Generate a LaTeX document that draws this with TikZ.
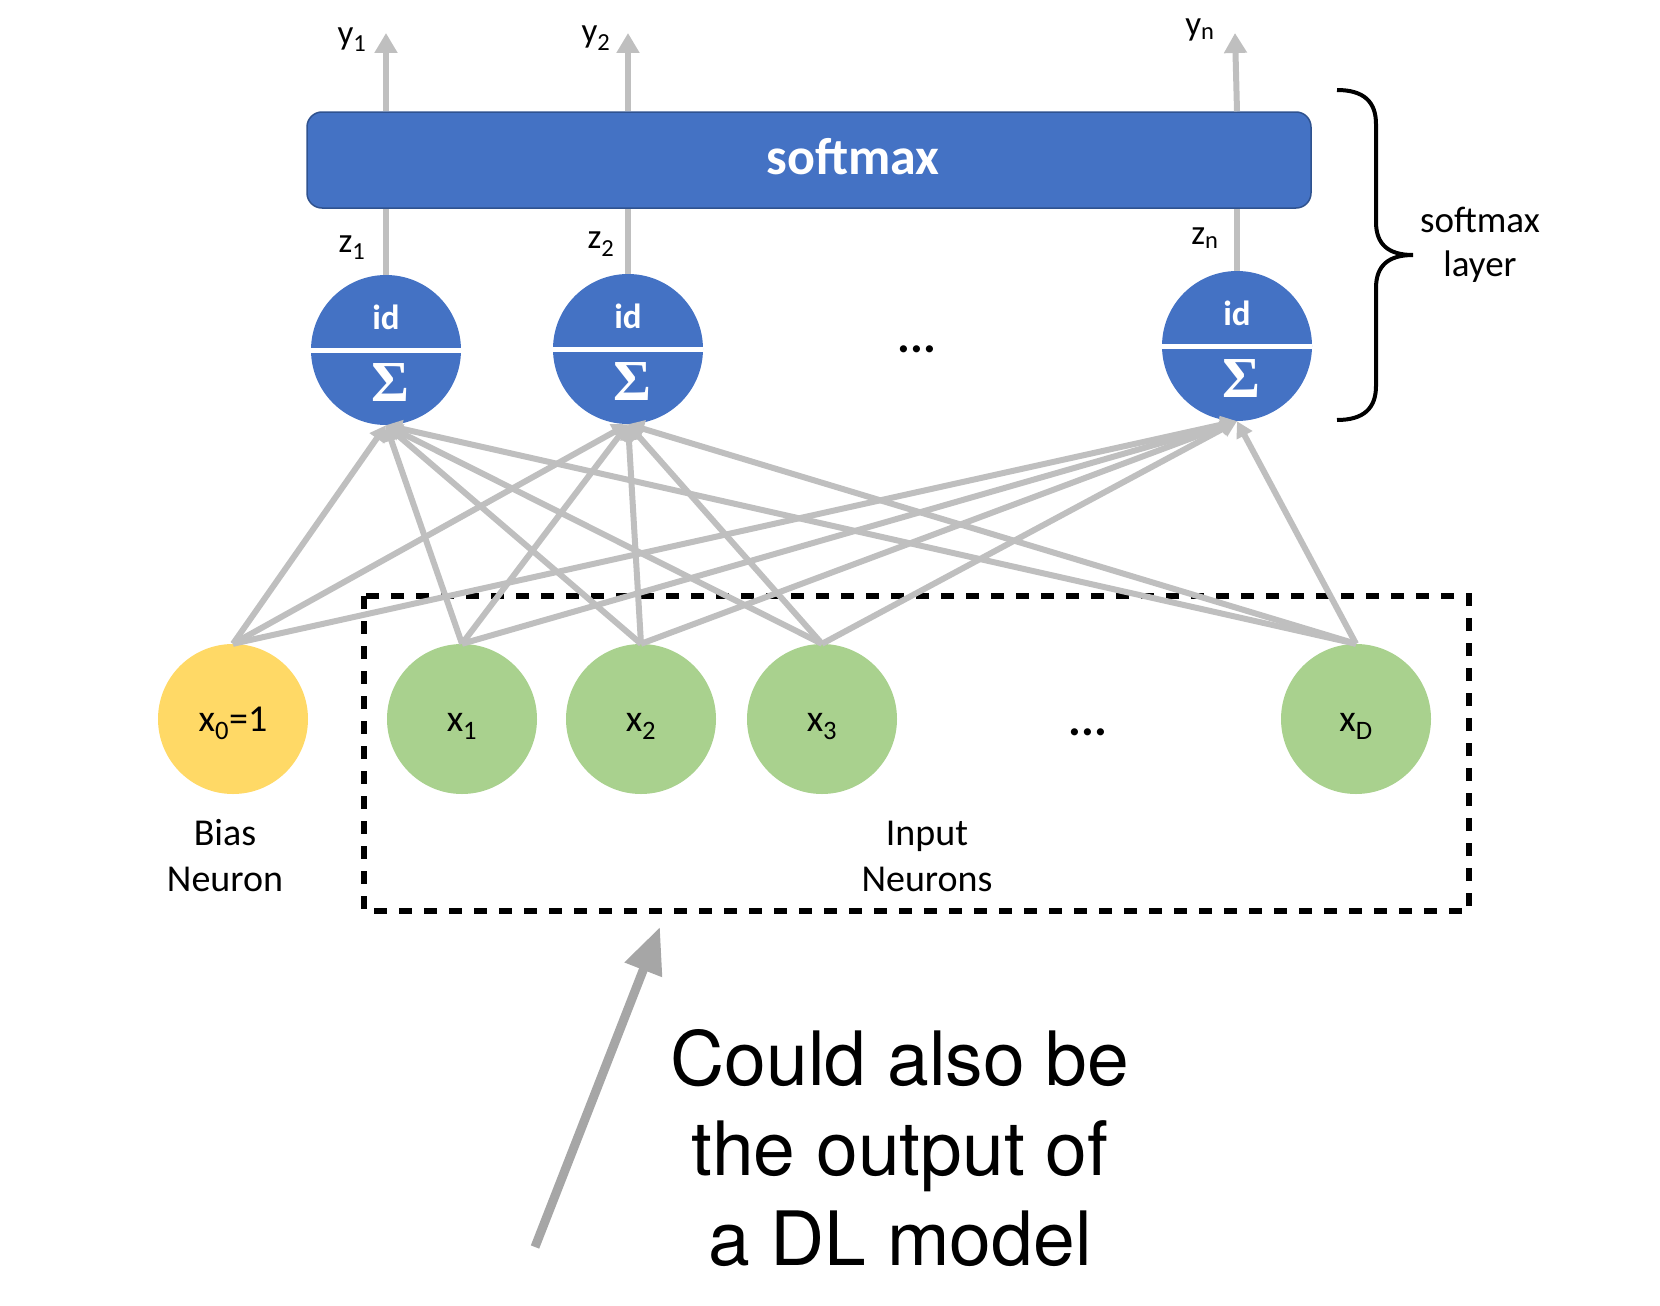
\documentclass[tikz,border=0pt]{standalone}
\usepackage{fontspec}
\setmainfont{Carlito}
\newfontfamily\helv{TeX Gyre Heros}
\newfontfamily\sigfont{Liberation Serif}
\usetikzlibrary{arrows.meta}
\definecolor{nblue}{HTML}{4472C4}
\definecolor{nborder}{HTML}{2F528F}
\definecolor{ngreen}{HTML}{A9D18E}
\definecolor{nyellow}{HTML}{FFD966}
\definecolor{lgray}{HTML}{BFBFBF}
\definecolor{dgray}{HTML}{A6A6A6}
\newcommand{\lowtext}[1]{\raisebox{-12pt}[0pt][0pt]{#1}}
\tikzset{
  neuron/.style={circle, fill=nblue, minimum size=150pt, inner sep=0pt},
  inode/.style={circle, fill=ngreen, minimum size=150pt, inner sep=0pt, font=\fontsize{38}{44}\selectfont},
  bnode/.style={circle, fill=nyellow, minimum size=150pt, inner sep=0pt, font=\fontsize{38}{44}\selectfont},
  conn/.style={lgray, line width=6pt, -{Triangle[length=16pt,width=17pt]}},
  outarrow/.style={lgray, line width=6pt, -{Triangle[length=20pt,width=22pt]}},
  zline/.style={lgray, line width=6pt},
  varlabel/.style={font=\fontsize{35}{40}\selectfont, inner sep=0pt},
  idtext/.style={white, font=\bfseries\fontsize{35}{40}\selectfont, inner sep=0pt},
  sigtext/.style={white, font=\sigfont\bfseries\fontsize{58}{64}\selectfont, inner sep=0pt},
  divider/.style={white, line width=5pt},
  grouplabel/.style={align=center, font=\fontsize{38}{46}\selectfont},
  dots/.style={font=\bfseries\fontsize{48}{50}\selectfont},
  bigtext/.style={font=\helv\fontsize{75}{90}\selectfont, anchor=base, inner sep=0pt}
}
\begin{document}
\begin{tikzpicture}[x=1pt,y=-1pt]
\useasboundingbox (0,0) rectangle (1660,1306);

% softmax box
\node[draw=nborder, line width=1.5pt, fill=nblue, rounded corners=15pt, minimum width=1004pt, minimum height=96pt, inner sep=0pt] (sm) at (809,160) {};
\node[white, font=\bfseries\fontsize{52}{60}\selectfont] (smt) at (853,157) {softmax};

% neurons
\node[neuron] (z1) at (386,350) {};
\node[neuron] (z2) at (628,349) {};
\node[neuron] (zn) at (1237,346) {};
\foreach \n in {z1,z2,zn}{
  \draw[divider] (\n.west) -- (\n.east);
  \node[idtext] (\n id) at ([yshift=33pt]\n.center) {id};
  \node[sigtext] (\n sig) at ([xshift=4pt,yshift=-33pt]\n.center) {Σ};
}
\node[dots] (dtop) at (917,349) {...};

% z lines and y arrows
\coordinate (y1tip) at (386,33);
\coordinate (y2tip) at (628,33);
\coordinate (yntip) at (1235,33);
\foreach \n/\t in {z1/y1tip,z2/y2tip,zn/yntip}{
  \draw[zline] (\n.north) -- (\n.north |- sm.south);
  \draw[outarrow] (\n.north |- sm.north) -- (\t);
}
\node[varlabel] (ly1) at (352,40) {y\textsubscript{1}};
\node[varlabel] (ly2) at (596,38) {y\textsubscript{2}};
\node[varlabel] (lyn) at (1200,30) {y\textsubscript{n}};
\node[varlabel] (lz1) at (352,248) {z\textsubscript{1}};
\node[varlabel] (lz2) at (601,244) {z\textsubscript{2}};
\node[varlabel] (lzn) at (1205,238) {z\textsubscript{n}};

% brace
\draw[black, line width=4pt] (1337,90) .. controls (1364,90) and (1376,102) .. (1376,124)
  -- (1376,222) .. controls (1376,244) and (1388,255) .. (1413,255)
  .. controls (1388,255) and (1376,266) .. (1376,288)
  -- (1376,386) .. controls (1376,408) and (1364,420) .. (1337,420);
\node[grouplabel, font=\fontsize{37}{44}\selectfont] (sml) at (1480,245) {softmax\\layer};

% dashed input box
\draw[black, line width=6pt, dash pattern=on 13pt off 12pt] (364,596) rectangle (1469,911);

% input nodes
\node[bnode] (b) at (233,719) {\lowtext{x\textsubscript{0}=1}};
\node[inode] (x1) at (462,719) {\lowtext{x\textsubscript{1}}};
\node[inode] (x2) at (641,719) {\lowtext{x\textsubscript{2}}};
\node[inode] (x3) at (822,719) {\lowtext{x\textsubscript{3}}};
\node[inode] (xD) at (1356,719) {\lowtext{x\textsubscript{D}}};
\node[dots] (dbot) at (1088,732) {...};

% connections
\foreach \s in {b,x1,x2,x3,xD}{
  \foreach \t in {z1,z2,zn}{
    \draw[conn] (\s.north) -- (\t.south);
  }
}

\node[grouplabel] (biasl) at (225,856) {Bias\\Neuron};
\node[grouplabel] (inl) at (927,856) {Input\\Neurons};

% bottom annotation
\coordinate (ab) at (535,1247);
\coordinate (at) at (660,927);
\draw[dgray, line width=9pt, -{Triangle[length=46pt,width=38pt]}] (ab) -- (at);
\node[bigtext] (t1) at (900,1085) {Could also be};
\node[bigtext] (t2) at (900,1175) {the output of};
\node[bigtext] (t3) at (900,1265) {a DL model};
\end{tikzpicture}
\end{document}
